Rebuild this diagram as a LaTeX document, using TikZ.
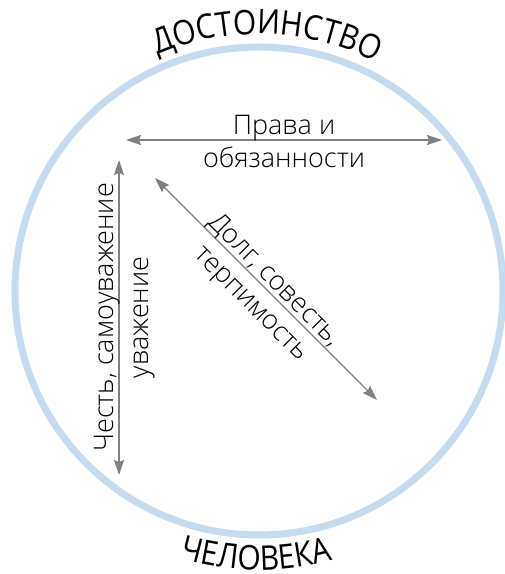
\documentclass[tikz,border=0pt]{standalone}
\usepackage{fontspec}
\setmainfont{Open Sans Light}
\newfontfamily\arcfam[FakeStretch=0.88]{Open Sans}
\usetikzlibrary{arrows.meta,decorations.text,calc}
\definecolor{ring}{RGB}{197,219,240}
\definecolor{arrgray}{RGB}{128,128,128}
\newcommand{\arcfont}{\arcfam\fontsize{34}{40}\selectfont}
\begin{document}
\begin{tikzpicture}[x=1pt,y=1pt,
  tip/.tip={Stealth[length=15pt,width=10pt,inset=2pt]},
  arr/.style={draw=arrgray, line width=1.1pt, tip-tip},
  lbl/.style={font=\fontsize{27}{32}\selectfont, inner sep=0pt, anchor=base},
  ringline/.style={draw=ring, line width=7pt}]
\useasboundingbox (0,0) rectangle (505,574);
\coordinate (c) at (259,283);
\draw[ringline] (c) circle[radius=244];
% arc texts
\path[decorate, decoration={text along path, text={|\arcfont|ДОСТОИНСТВО}, text align=center}]
  ($(c)+(128.2:257)$) arc[start angle=128.2, end angle=48.2, radius=257];
\path[decorate, decoration={text along path, text={|\arcfont|ЧЕЛОВЕКА}, text align=center}]
  ($(c)+(229.4:279)$) arc[start angle=229.4, end angle=309.4, radius=279];
% horizontal arrow
\coordinate (h1) at (126,434);
\coordinate (h2) at (442,434);
\draw[arr] (h1) -- (h2);
\coordinate (hm) at ($(h1)!0.5!(h2)$);
\node[lbl] (ht1) at ($(hm)+(90:5)$) {Права и};
\node[lbl] (ht2) at ($(hm)+(270:28)$) {обязанности};
% vertical arrow
\coordinate (v1) at (119,414);
\coordinate (v2) at (119,99);
\draw[arr] (v1) -- (v2);
\coordinate (vm) at ($(v1)!0.5!(v2)$);
\node[lbl, rotate=90] (vt1) at ($(vm)+(180:6)$) {Честь, самоуважение};
\node[lbl, rotate=90] (vt2) at ($(vm)+(0:29)$) {уважение};
% diagonal arrow
\coordinate (d1) at (155,396);
\coordinate (d2) at (377,174);
\draw[arr] (d1) -- (d2);
\coordinate (dm) at ($(d1)!0.5!(d2)$);
\node[lbl, rotate=-45] (dt1) at ($(dm)+(45:5)$) {Долг, совесть,};
\node[lbl, rotate=-45] (dt2) at ($(dm)+(225:28)$) {терпимость};
\end{tikzpicture}
\end{document}
